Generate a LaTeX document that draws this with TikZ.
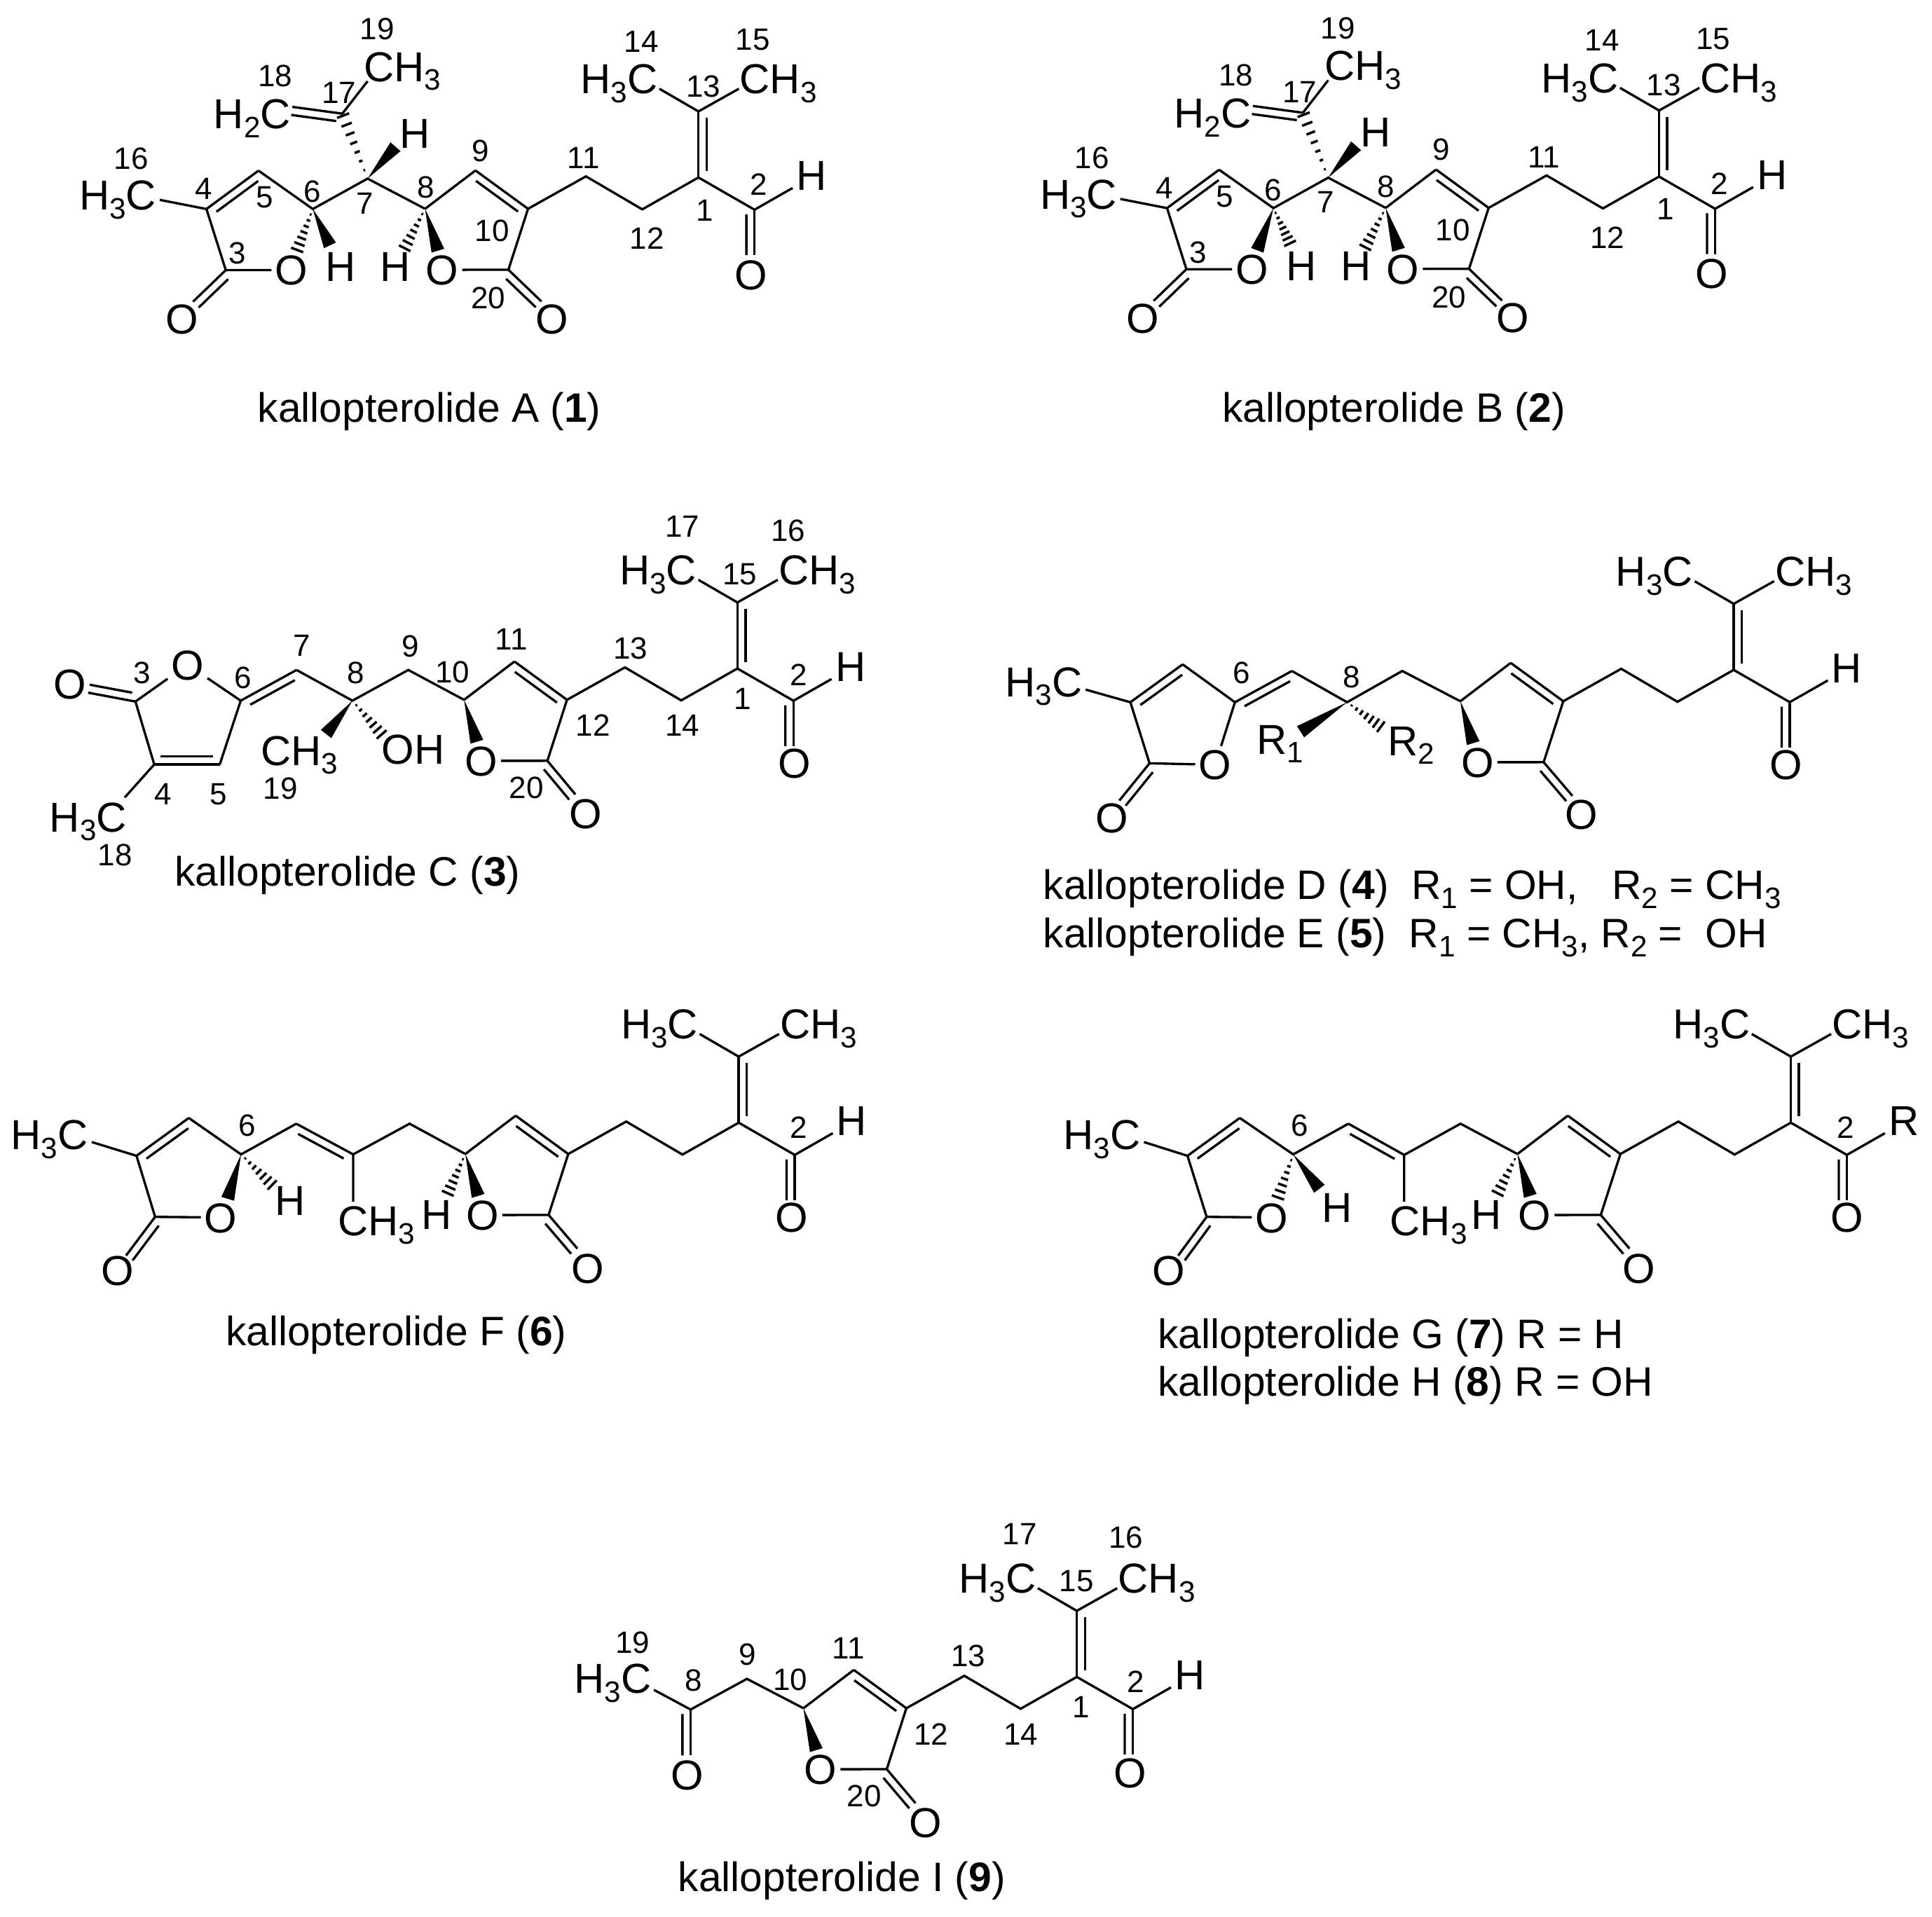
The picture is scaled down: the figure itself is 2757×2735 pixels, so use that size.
\documentclass[tikz,border=0pt]{standalone}
\usepackage{fontspec}
\setmainfont{Liberation Sans}
\usetikzlibrary{calc}
\tikzset{
  atom/.style={inner sep=1pt,text height=12.2pt,text depth=0pt,font=\fontsize{17}{18}\selectfont},
  num/.style={inner sep=0pt,font=\fontsize{12.5}{14}\selectfont},
  title/.style={inner sep=0pt,text height=12pt,text depth=0pt,font=\fontsize{16.7}{18}\selectfont},
  cropA/.style={shift={(#1)},x=.007653cm,y=-.004209cm},
  cropB/.style={shift={(#1)},x=.008291cm,y=-.004082cm},
  cropC/.style={shift={(#1)},x=.006378cm,y=-.003731cm}
}
\newcommand{\subs}[1]{\raisebox{-3.6pt}{\fontsize{12}{12}\selectfont #1}}
\newcommand{\dboff}{3.3pt}
% double bond, second line shortened at both ends; side 90 or 270
\newcommand{\dbl}[3]{\draw (#1) -- (#2);
  \draw ($(#1)!.1!(#2)!\dboff!#3:(#2)$) -- ($(#2)!.1!(#1)!\dboff!-#3:(#1)$);}
% the same for C=O, second line runs up to the free end
\newcommand{\dblO}[3]{\draw (#1) -- (#2);
  \draw ($(#1)!.1!(#2)!\dboff!#3:(#2)$) -- ($(#2)!\dboff!-#3:(#1)$);}
\newcommand{\wedgeb}[2]{\fill ($(#2)!2.7pt!90:(#1)$) -- (#1) -- ($(#2)!2.7pt!-90:(#1)$) -- cycle;}
\newcommand{\hashb}[2]{\foreach \t in {.13,.27,.41,.55,.69,.83,.97}{
    \pgfmathsetmacro\w{\t*2.7}
    \draw[line width=1pt] ($(#1)!\t!(#2)!\w pt!90:(#2)$) -- ($(#1)!\t!(#2)!\w pt!-90:(#2)$);}}
\newcommand{\numbers}[2]{\foreach \x/\y/\lab in {#2} \node[num] (#1n\lab) at (\x,\y) {\lab};}
% butenolide with side chain, placed at its alpha carbon
% name, x, y, end group, ring C=O oxygen, end of that bond, chain C=O oxygen
\newcommand{\tail}[7]{
  \begin{scope}[shift={(#2,#3)}]
    \path (0,0) coordinate (#1ca) (-75,-54.7) coordinate (#1cb) (-146.9,0) coordinate (#1cg)
      (-28,87) coordinate (#1cl) (#6) coordinate (#1ce) (-128.6,59.8) coordinate (#1wo)
      (82.7,-46.3) coordinate (#1c1) (163,0.8) coordinate (#1c2) (243.2,-44.7) coordinate (#1c3)
      (243.2,-139) coordinate (#1c4) (187.5,-171.3) coordinate (#1m1) (300.8,-171.3) coordinate (#1m2)
      (323.2,1.3) coordinate (#1c5) (377.5,-29.7) coordinate (#1he) (323.2,66) coordinate (#1oe);
    \node[atom] (#1lo) at (-122.4,87.1) {O};
    \node[atom] (#1lco) at (#5) {O};
    \node[atom] (#1ald) at (#7) {O};
    \node[atom] (#1r) at (404.5,-47.5) {#4};
    \node[atom] (#1lm1) at (130,-185.6) {H\subs{3}C};
    \node[atom] (#1lm2) at (357.2,-185.6) {CH\subs{3}};
    \draw (#1cg) -- (#1cb);
    \dbl{#1cb}{#1ca}{270}
    \draw (#1ca) -- (#1cl) -- (#1lo);
    \dblO{#1cl}{#1ce}{270}
    \draw (#1ca) -- (#1c1) -- (#1c2) -- (#1c3) -- (#1c5) -- (#1he);
    \dbl{#1c3}{#1c4}{270}
    \draw (#1m1) -- (#1c4) -- (#1m2);
    \dblO{#1c5}{#1oe}{270}
    \wedgeb{#1cg}{#1wo}
  \end{scope}}
% left half shared by the first two compounds
\newcommand{\vinylhead}[2]{
  \begin{scope}[cropA={#2}]
    \path (580,605) coordinate (#1C7) (478,708) coordinate (#1C6) (377,578) coordinate (#1C5)
      (280,708) coordinate (#1C4) (316,915) coordinate (#1C3) (193,677) coordinate (#1me)
      (255,1022) coordinate (#1oe) (448,851) coordinate (#1to) (510,831) coordinate (#1th)
      (648,845) coordinate (#1tk) (533,385) coordinate (#1C17) (440,362) coordinate (#1ve)
      (580,275) coordinate (#1ve2) (632,497) coordinate (#1tu);
    \node[atom] (#1lo1) at (438,915) {O};
    \node[atom] (#1lo2) at (235,1080) {O};
    \node[atom] (#1lm) at (115,660) {H\subs{3}C};
    \node[atom] (#1lh1) at (530,903) {H};
    \node[atom] (#1lh2) at (632,903) {H};
    \node[atom] (#1lh3) at (668,450) {H};
    \node[atom] (#1lv) at (365,385) {H\subs{2}C};
    \node[atom] (#1lv2) at (645,225) {CH\subs{3}};
    \draw (#1cg) -- (#1C7) -- (#1C6) -- (#1C5);
    \dbl{#1C4}{#1C5}{270}
    \draw (#1me) -- (#1C4) -- (#1C3) -- (#1lo1);
    \dblO{#1C3}{#1oe}{90}
    \dblO{#1C17}{#1ve}{90}
    \draw (#1C17) -- (#1ve2);
    \hashb{#1C7}{#1C17}
    \wedgeb{#1C7}{#1tu}
    \hashb{#1cg}{#1tk}
    \numbers{#1}{275/640/4,388/668/5,477/648/6,575/688/7,688/635/8,790/510/9,812/782/10,982/535/11,
      1100/808/12,1208/712/1,1308/625/2,338/858/3,1205/292/13,1090/140/14,1297/135/15,527/315/17,
      408/258/18,598/98/19,805/1010/20,140/538/16}
  \end{scope}}

\begin{document}
\begin{tikzpicture}[x=.01cm,y=-.01cm,line width=.95pt]
  \useasboundingbox (0,0) rectangle (2757,2735);

  % kallopterolide A
  \tail{a}{753.5}{298}{H}{34.4,156.6}{19.1,132.2}{318.2,93.7}
  \vinylhead{a}{80,0}
  \hashb{aC6}{ato}
  \wedgeb{aC6}{ath}
  \begin{scope}[cropA={80,0}]
    \node[title] (atitle) at (695,1380) {kallopterolide A (\textbf{1})};
  \end{scope}

  % kallopterolide B
  \tail{b}{2124.3}{296.7}{H}{34.4,156.6}{19.1,132.2}{318.2,93.7}
  \vinylhead{b}{1450.8,-1.3}
  \wedgeb{bC6}{bto}
  \hashb{bC6}{bth}
  \begin{scope}[cropA={1460,0}]
    \node[title] (btitle) at (690,1380) {kallopterolide B (\textbf{2})};
  \end{scope}

  % kallopterolide C
  \tail{c}{809.1}{998.8}{H}{26.8,162}{12,135}{325,90.5}
  \begin{scope}[cropA={40,700}]
    \path (708,608) coordinate (cC9) (604,712) coordinate (cC8) (500,608) coordinate (cC7)
      (396,712) coordinate (cC6) (200,715) coordinate (cC3) (235,928) coordinate (cC4)
      (357,928) coordinate (cC5) (180,1040) coordinate (cme) (112,685) coordinate (coe)
      (555,825) coordinate (ctw) (660,830) coordinate (cth);
    \node[atom] (clo1) at (297,590) {O};
    \node[atom] (clo2) at (78,655) {O};
    \node[atom] (clm) at (112,1105) {H\subs{3}C};
    \node[atom] (clm2) at (505,880) {CH\subs{3}};
    \node[atom] (cloh) at (717,875) {OH};
    \draw (ccg) -- (cC9) -- (cC8) -- (cC7);
    \dbl{cC6}{cC7}{270}
    \draw (cC5) -- (cC6) -- (clo1) -- (cC3) -- (cC4) -- (cme);
    \dbl{cC4}{cC5}{90}
    \dblO{cC3}{coe}{270}
    \wedgeb{cC8}{ctw}
    \hashb{cC8}{cth}
    \numbers{c}{212/618/3,400/635/6,510/525/7,610/618/8,712/528/9,790/615/10,900/505/11,1052/795/12,
      1122/535/13,1218/795/14,1330/705/1,1435/625/2,1325/283/15,1218/122/17,1415/135/16,928/1008/20,
      252/1028/4,355/1028/5,470/1010/19,162/1235/18}
    \node[title] (ctitle) at (595,1290) {kallopterolide C (\textbf{3})};
  \end{scope}

  % kallopterolide D, E
  \tail{d}{2230.8}{1000.8}{H}{25.7,161}{13,135}{317.5,89.8}
  \begin{scope}[cropB={1400,760}]
    \path (725,483) coordinate (dC9) (630,592) coordinate (dC8) (535,483) coordinate (dC7)
      (437,592) coordinate (dC6) (347,460) coordinate (dC5) (257,592) coordinate (dC4)
      (290,805) coordinate (dC3) (180,548) coordinate (dme) (238,935) coordinate (doe)
      (550,695) coordinate (dtw) (690,680) coordinate (dth);
    \node[atom] (dlo1) at (403,810) {O};
    \node[atom] (dlo2) at (225,995) {O};
    \node[atom] (dlm) at (108,520) {H\subs{3}C};
    \node[atom] (dlr1) at (515,720) {R\subs{1}};
    \node[atom] (dlr2) at (740,725) {R\subs{2}};
    \draw (dcg) -- (dC9) -- (dC8) -- (dC7);
    \dbl{dC6}{dC7}{270}
    \draw (dC4) -- (dC3) -- (dlo1) -- (dC6) -- (dC5);
    \dbl{dC4}{dC5}{270}
    \draw (dme) -- (dC4);
    \dblO{dC3}{doe}{90}
    \wedgeb{dC8}{dtw}
    \hashb{dC8}{dth}
    \numbers{d}{448/490/6,638/505/8}
    \node[title,anchor=west] (dtitle) at (105,1229) {kallopterolide D (\textbf{4})\ \ R\subs{1} = OH,\ \ \ R\subs{2} = CH\subs{3}};
    \node[title,anchor=west] (etitle) at (105,1397) {kallopterolide E (\textbf{5})\ \ R\subs{1} = CH\subs{3}, R\subs{2} =\ \ OH};
  \end{scope}

  % kallopterolide F
  \tail{f}{810.9}{1647}{H}{28,163}{13,135}{319,90}
  \begin{scope}[cropB={0,1400}]
    \path (705,498) coordinate (fC9) (608,605) coordinate (fC8) (510,498) coordinate (fC7)
      (415,605) coordinate (fC6) (325,478) coordinate (fC5) (235,610) coordinate (fC4)
      (267,823) coordinate (fC3) (158,562) coordinate (fme) (217,958) coordinate (foe)
      (392,760) coordinate (fto) (470,715) coordinate (fth) (608,770) coordinate (fme2)
      (770,745) coordinate (ftk);
    \node[atom] (flo1) at (380,825) {O};
    \node[atom] (flo2) at (202,1010) {O};
    \node[atom] (flm) at (85,535) {H\subs{3}C};
    \node[atom] (flm2) at (648,835) {CH\subs{3}};
    \node[atom] (flh1) at (500,765) {H};
    \node[atom] (flh2) at (752,815) {H};
    \draw (fcg) -- (fC9) -- (fC8) -- (fme2);
    \dbl{fC7}{fC8}{270}
    \draw (fC7) -- (fC6) -- (fC5);
    \dbl{fC4}{fC5}{270}
    \draw (fme) -- (fC4) -- (fC3) -- (flo1);
    \dblO{fC3}{foe}{90}
    \wedgeb{fC6}{fto}
    \hashb{fC6}{fth}
    \hashb{fcg}{ftk}
    \numbers{f}{426/505/6,1375/510/2}
    \node[title] (ftitle) at (682,1220) {kallopterolide F (\textbf{6})};
  \end{scope}

  % kallopterolide G, H
  \tail{g}{2312.3}{1647}{R}{26.5,163}{13,135}{323,90}
  \begin{scope}[cropB={1450,1400}]
    \path (765,498) coordinate (gC9) (668,607) coordinate (gC8) (572,498) coordinate (gC7)
      (477,605) coordinate (gC6) (385,478) coordinate (gC5) (295,610) coordinate (gC4)
      (328,823) coordinate (gC3) (220,562) coordinate (gme) (279,958) coordinate (goe)
      (450,760) coordinate (gto) (522,725) coordinate (gth) (668,770) coordinate (gme2)
      (828,745) coordinate (gtk);
    \node[atom] (glo1) at (440,825) {O};
    \node[atom] (glo2) at (263,1010) {O};
    \node[atom] (glm) at (148,535) {H\subs{3}C};
    \node[atom] (glm2) at (710,835) {CH\subs{3}};
    \node[atom] (glh1) at (552,790) {H};
    \node[atom] (glh2) at (810,815) {H};
    \draw (gcg) -- (gC9) -- (gC8) -- (gme2);
    \dbl{gC7}{gC8}{270}
    \draw (gC7) -- (gC6) -- (gC5);
    \dbl{gC4}{gC5}{270}
    \draw (gme) -- (gC4) -- (gC3) -- (glo1);
    \dblO{gC3}{goe}{90}
    \hashb{gC6}{gto}
    \wedgeb{gC6}{gth}
    \hashb{gcg}{gtk}
    \numbers{g}{488/505/6,1428/510/2}
    \node[title,anchor=west] (gtitle) at (242,1231) {kallopterolide G (\textbf{7}) R = H};
    \node[title,anchor=west] (htitle) at (242,1397) {kallopterolide H (\textbf{8}) R = OH};
  \end{scope}

  % kallopterolide I
  \tail{i}{1293.4}{2438}{H}{27.4,163.4}{13,135.4}{318.9,92.5}
  \begin{scope}[cropC={780,2150}]
    \path (448,658) coordinate (iC9) (322,775) coordinate (iC8) (240,700) coordinate (ime)
      (322,950) coordinate (ioe);
    \node[atom] (ilo) at (315,1025) {O};
    \node[atom] (ilm) at (148,655) {H\subs{3}C};
    \draw (icg) -- (iC9) -- (iC8) -- (ime);
    \dblO{iC8}{ioe}{270}
    \numbers{i}{192/520/19,328/665/8,450/565/9,545/660/10,675/540/11,860/868/12,943/570/13,1060/870/14,
      1195/765/1,1318/670/2,1185/285/15,1058/105/17,1295/118/16,710/1105/20}
    \node[title] (ititle) at (660,1412) {kallopterolide I (\textbf{9})};
  \end{scope}
\end{tikzpicture}
\end{document}
